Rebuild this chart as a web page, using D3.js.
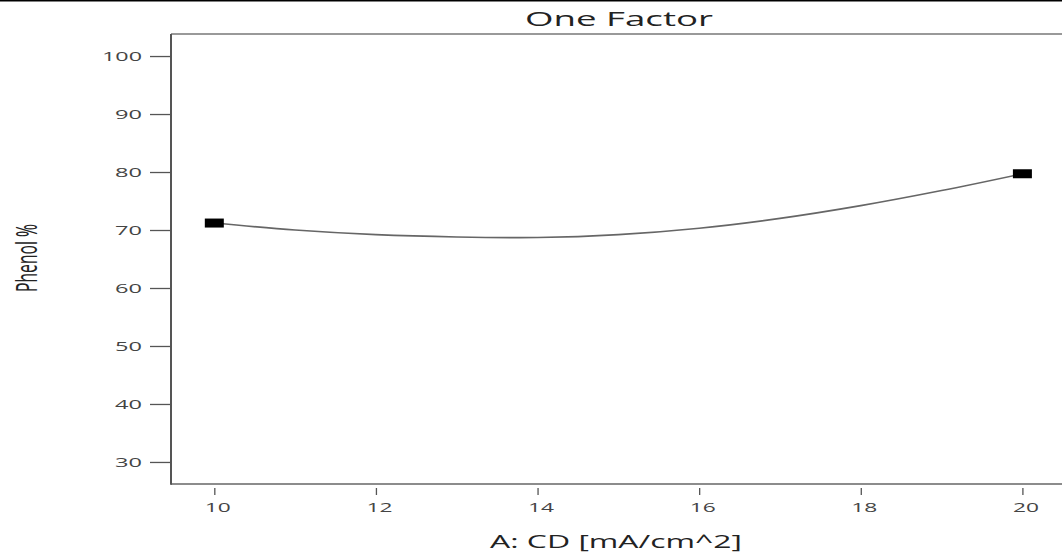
<!DOCTYPE html>
<html>
<head>
<meta charset="utf-8">
<script src="https://cdn.jsdelivr.net/npm/d3@7"></script>
<style>
  body { margin: 0; background: #fff; }
  svg { display: block; }
  text { font-family: "Open Sans", "Noto Sans", sans-serif; }
</style>
</head>
<body>
<div id="chart"></div>
<script>
// values
var xTicks = [10, 12, 14, 16, 18, 20];
var yTicks = [30, 40, 50, 60, 70, 80, 90, 100];
var designX = [10, 20];
var designY = [71.2, 79.7];
var curveX = [10, 11, 12, 13, 14, 15, 16, 17, 18, 19, 20];
var curveY = [71.2, 70.0, 69.2, 68.8, 68.7, 69.2, 70.3, 72.0, 74.2, 76.8, 79.7];

var W = 1062, H = 555;
var plot = { left: 171, top: 34, right: 1062, bottom: 484 };

var svg = d3.select("#chart")
  .append("svg")
  .attr("width", W)
  .attr("height", H);

// thin black rule along the very top
svg.append("line")
  .attr("x1", 0).attr("x2", W)
  .attr("y1", 0.5).attr("y2", 0.5)
  .attr("stroke", "#000")
  .attr("stroke-width", 2);

var x = d3.scaleLinear()
  .domain([9.464, 20.49])
  .range([plot.left, plot.right]);

var y = d3.scaleLinear()
  .domain([26.2, 103.8])
  .range([plot.bottom, plot.top]);

// frame: top and bottom lines, left axis line
svg.append("line")
  .attr("x1", plot.left).attr("x2", plot.right)
  .attr("y1", plot.top).attr("y2", plot.top)
  .attr("stroke", "#777").attr("stroke-width", 1.5);
svg.append("line")
  .attr("x1", plot.left).attr("x2", plot.right)
  .attr("y1", plot.bottom).attr("y2", plot.bottom)
  .attr("stroke", "#666").attr("stroke-width", 1.5);
svg.append("line")
  .attr("x1", plot.left).attr("x2", plot.left)
  .attr("y1", plot.top).attr("y2", plot.bottom + 0.75)
  .attr("stroke", "#555").attr("stroke-width", 2);

// Y axis
var yAxis = svg.append("g")
  .attr("transform", "translate(" + plot.left + ",0)")
  .call(d3.axisLeft(y).tickValues(yTicks).tickSize(21).tickPadding(8));
yAxis.select(".domain").remove();
yAxis.selectAll(".tick line").attr("stroke", "#555").attr("stroke-width", 1.3);
yAxis.selectAll(".tick text")
  .attr("fill", "#444")
  .style("font-size", "13.5px")
  .attr("textLength", function (d) { return d >= 100 ? 40 : 27; })
  .attr("lengthAdjust", "spacingAndGlyphs");

// X axis (ticks sit a little below the frame line)
var xAxis = svg.append("g")
  .attr("transform", "translate(0," + (plot.bottom + 4) + ")")
  .call(d3.axisBottom(x).tickValues(xTicks).tickSize(7));
xAxis.select(".domain").remove();
xAxis.selectAll(".tick line").attr("stroke", "#555").attr("stroke-width", 1.3);
xAxis.selectAll(".tick text")
  .attr("y", 24)
  .attr("dy", null)
  .attr("x", 3)
  .attr("fill", "#444")
  .style("font-size", "13px")
  .attr("textLength", 26)
  .attr("lengthAdjust", "spacingAndGlyphs");

// fitted curve
var line = d3.line()
  .curve(d3.curveCatmullRom)
  .x(function (d) { return x(d[0]); })
  .y(function (d) { return y(d[1]); });

svg.append("path")
  .datum(d3.zip(curveX, curveY))
  .attr("fill", "none")
  .attr("stroke", "#666")
  .attr("stroke-width", 1.6)
  .attr("d", line);

// design points
svg.append("g")
  .selectAll("rect")
  .data(d3.zip(designX, designY))
  .enter()
  .append("rect")
  .attr("x", function (d) { return x(d[0]) - 9.5; })
  .attr("y", function (d) { return y(d[1]) - 4.5; })
  .attr("width", 19)
  .attr("height", 9)
  .attr("fill", "#000");

// titles
svg.append("text")
  .attr("x", 619)
  .attr("y", 26)
  .attr("text-anchor", "middle")
  .attr("fill", "#222")
  .style("font-size", "19.5px")
  .attr("textLength", 188)
  .attr("lengthAdjust", "spacingAndGlyphs")
  .text("One Factor");

svg.append("text")
  .attr("x", 616)
  .attr("y", 548)
  .attr("text-anchor", "middle")
  .attr("fill", "#222")
  .style("font-size", "18px")
  .attr("textLength", 252)
  .attr("lengthAdjust", "spacingAndGlyphs")
  .text("A: CD [mA/cm^2]");

// narrow, tall axis label
svg.append("text")
  .attr("transform", "translate(37,258) rotate(-90)")
  .attr("text-anchor", "middle")
  .attr("fill", "#222")
  .style("font-size", "30px")
  .attr("textLength", 68)
  .attr("lengthAdjust", "spacingAndGlyphs")
  .text("Phenol %");
</script>
</body>
</html>
